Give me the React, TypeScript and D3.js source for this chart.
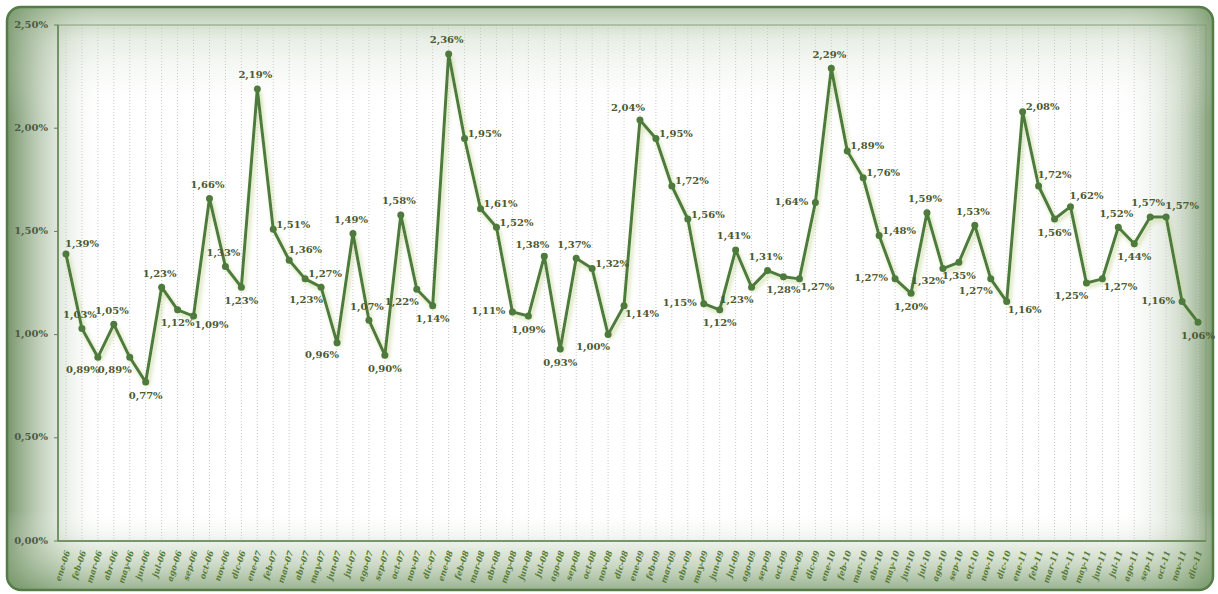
import React from "react";
import * as d3 from "d3";

const years = ["06", "07", "08", "09", "10", "11"];
const monthNames = ["ene", "feb", "mar", "abr", "may", "jun", "jul", "ago", "sep", "oct", "nov", "dic"];
const categories: string[] = years.flatMap((y) => monthNames.map((m) => `${m}-${y}`));

const values: number[] = [
  // 2006
  1.39, 1.03, 0.89, 1.05, 0.89, 0.77, 1.23, 1.12, 1.09, 1.66, 1.33, 1.23,
  // 2007
  2.19, 1.51, 1.36, 1.27, 1.23, 0.96, 1.49, 1.07, 0.9, 1.58, 1.22, 1.14,
  // 2008
  2.36, 1.95, 1.61, 1.52, 1.11, 1.09, 1.38, 0.93, 1.37, 1.32, 1.0, 1.14,
  // 2009
  2.04, 1.95, 1.72, 1.56, 1.15, 1.12, 1.41, 1.23, 1.31, 1.28, 1.27, 1.64,
  // 2010
  2.29, 1.89, 1.76, 1.48, 1.27, 1.2, 1.59, 1.32, 1.35, 1.53, 1.27, 1.16,
  // 2011
  2.08, 1.72, 1.56, 1.62, 1.25, 1.27, 1.52, 1.44, 1.57, 1.57, 1.16, 1.06,
];

const yTicks: number[] = [0, 0.5, 1.0, 1.5, 2.0, 2.5];

// label placement codes (style)
const labelPos: string[] = [
  "TR", "T", "BL", "T", "BL", "B", "T", "B", "BR", "T", "T", "B",
  "T", "R", "TR", "R", "BL", "BL", "T", "T", "B", "T", "BL", "B",
  "T", "R", "R", "R", "L", "B", "TL", "B", "T", "R", "BL", "BR",
  "TL", "R", "R", "R", "L", "B", "T", "BL", "T", "B", "BR", "L",
  "T", "R", "R", "R", "L", "B", "T", "BL", "B", "T", "BL", "BR",
  "R", "TR", "B", "TR", "BL", "BR", "T", "B", "T", "TR", "L", "B",
];

const offsets: Record<string, [number, number]> = {
  T: [-2, -13],
  B: [0, 14],
  R: [20, -4],
  L: [-24, 0],
  TR: [16, -10],
  TL: [-12, -11],
  BR: [18, 9],
  BL: [-15, 13],
};

const W = 1218;
const H = 594;
const plot = { left: 58, right: 1206, top: 25, bottom: 541 };

const fmt = (v: number) => v.toFixed(2).replace(".", ",") + "%";

export default function App() {
  const x = d3
    .scalePoint<string>()
    .domain(categories)
    .range([plot.left, plot.right])
    .padding(0.5);
  const y = d3.scaleLinear().domain([0, 2.5]).range([plot.bottom, plot.top]);

  const line = d3
    .line<number>()
    .x((_, i) => x(categories[i]) as number)
    .y((d) => y(d));

  const serif = "'DejaVu Serif', 'Liberation Serif', serif";

  return (
    <svg
      width={W}
      height={H}
      style={{ position: "absolute", left: 0, top: 0, background: "#fff" }}
    >
      <defs>
        <clipPath id="frameClip">
          <rect x={7} y={7} width={1206} height={583} rx={14} />
        </clipPath>
        <linearGradient id="gLeft" x1="0" x2="1" y1="0" y2="0">
          <stop offset="0" stopColor="#5e8250" stopOpacity={0.85} />
          <stop offset="0.45" stopColor="#93ad88" stopOpacity={0.4} />
          <stop offset="1" stopColor="#ffffff" stopOpacity={0} />
        </linearGradient>
        <linearGradient id="gRight" x1="1" x2="0" y1="0" y2="0">
          <stop offset="0" stopColor="#5e8250" stopOpacity={0.8} />
          <stop offset="0.35" stopColor="#93ad88" stopOpacity={0.4} />
          <stop offset="1" stopColor="#ffffff" stopOpacity={0} />
        </linearGradient>
        <linearGradient id="gTop" x1="0" x2="0" y1="0" y2="1">
          <stop offset="0" stopColor="#779a69" stopOpacity={0.55} />
          <stop offset="0.3" stopColor="#a6bc9b" stopOpacity={0.25} />
          <stop offset="1" stopColor="#ffffff" stopOpacity={0} />
        </linearGradient>
        <linearGradient id="gBottom" x1="0" x2="0" y1="1" y2="0">
          <stop offset="0" stopColor="#6f9361" stopOpacity={0.7} />
          <stop offset="0.55" stopColor="#aec3a3" stopOpacity={0.3} />
          <stop offset="1" stopColor="#ffffff" stopOpacity={0} />
        </linearGradient>
        <filter id="glow" x="-5%" y="-5%" width="110%" height="115%">
          <feDropShadow dx={2} dy={3} stdDeviation={2.2} floodColor="#c6d99a" floodOpacity={0.9} />
        </filter>
      </defs>

      {/* chart frame */}
      <rect x={7} y={7} width={1206} height={583} rx={14} fill="#ffffff" />
      <g clipPath="url(#frameClip)">
        <rect x={7} y={7} width={95} height={583} fill="url(#gLeft)" />
        <rect x={1118} y={7} width={95} height={583} fill="url(#gRight)" />
        <rect x={7} y={7} width={1206} height={110} fill="url(#gTop)" />
        <rect x={7} y={510} width={1206} height={80} fill="url(#gBottom)" />
      </g>
      <rect
        x={7}
        y={7}
        width={1206}
        height={583}
        rx={14}
        fill="none"
        stroke="#557c47"
        strokeWidth={2.5}
      />

      {/* vertical dotted gridlines */}
      <g>
        {categories.map((c) => (
          <line
            key={c}
            x1={x(c)}
            x2={x(c)}
            y1={plot.top}
            y2={plot.bottom}
            stroke="#c9c9c9"
            strokeWidth={1}
            strokeDasharray="1,2"
          />
        ))}
      </g>

      {/* plot border */}
      <rect
        x={plot.left}
        y={plot.top}
        width={plot.right - plot.left}
        height={plot.bottom - plot.top}
        fill="none"
        stroke="#86a07b"
        strokeWidth={1}
      />
      <line x1={plot.left} x2={plot.left} y1={plot.top} y2={plot.bottom} stroke="#5f8452" strokeWidth={1.5} />
      <line x1={plot.left} x2={plot.right} y1={plot.bottom} y2={plot.bottom} stroke="#5f8452" strokeWidth={1.5} />

      {/* y ticks */}
      <g fontFamily={serif} fontWeight="bold" fontSize={10} fill="#4c5a44">
        {yTicks.map((t) => (
          <g key={t}>
            <line x1={plot.left - 4} x2={plot.left} y1={y(t)} y2={y(t)} stroke="#5f8452" />
            <text x={48} y={y(t)} textAnchor="end" dominantBaseline="middle">
              {fmt(t)}
            </text>
          </g>
        ))}
      </g>

      {/* x labels */}
      <g fontFamily={serif} fontWeight="bold" fontStyle="italic" fontSize={8.3} fill="#587a38">
        {categories.map((c) => {
          const px = (x(c) as number) + 2;
          const py = plot.bottom + 10;
          return (
            <text
              key={c}
              x={px}
              y={py}
              textAnchor="end"
              dominantBaseline="middle"
              transform={`rotate(-72, ${px}, ${py})`}
            >
              {c}
            </text>
          );
        })}
      </g>

      {/* line */}
      <path
        d={line(values) || ""}
        fill="none"
        stroke="#4e7a3e"
        strokeWidth={3}
        strokeLinejoin="round"
        filter="url(#glow)"
      />
      <g fill="#4e7a3e">
        {values.map((v, i) => (
          <circle key={i} cx={x(categories[i])} cy={y(v)} r={3.5} />
        ))}
      </g>

      {/* data labels */}
      <g fontFamily={serif} fontWeight="bold" fontSize={10} fill="#4b5a30">
        {values.map((v, i) => {
          const [dx, dy] = offsets[labelPos[i]];
          return (
            <text
              key={i}
              x={(x(categories[i]) as number) + dx}
              y={y(v) + dy}
              textAnchor="middle"
              dominantBaseline="middle"
            >
              {fmt(v)}
            </text>
          );
        })}
      </g>
    </svg>
  );
}
